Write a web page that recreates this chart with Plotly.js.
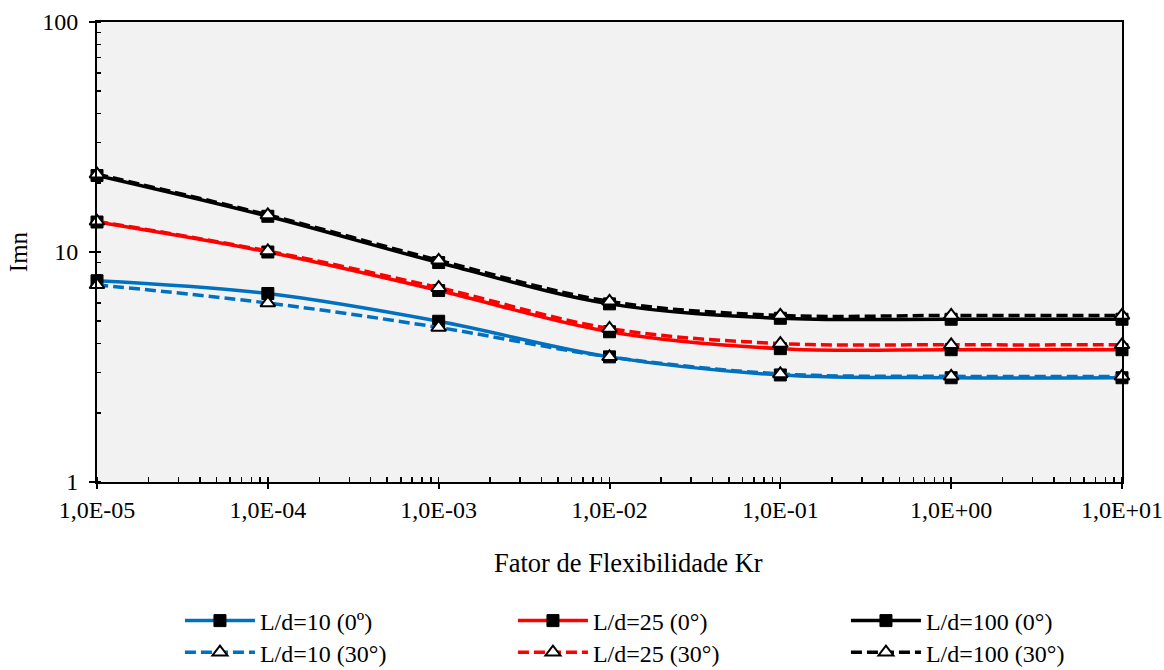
<!DOCTYPE html>
<html>
<head>
<meta charset="utf-8">
<script src="https://cdn.plot.ly/plotly-3.0.1.min.js"></script>
<style>html,body{margin:0;padding:0;background:#fff;}#chart{width:1164px;height:670px;}</style>
</head>
<body>
<div id="chart"></div>
<script>
// Data
const kr = [1e-5, 1e-4, 1e-3, 1e-2, 1e-1, 1e0, 1e1];
const ld10_0  = [7.5, 6.6, 5.0, 3.5, 2.92, 2.84, 2.84];
const ld10_30 = [7.2, 6.0, 4.7, 3.5, 2.95, 2.88, 2.88];
const ld25_0  = [13.5, 10.0, 6.8, 4.5, 3.8, 3.76, 3.76];
const ld25_30 = [13.6, 10.1, 7.0, 4.65, 4.0, 3.95, 3.95];
const ld100_0  = [21.5, 14.3, 9.0, 5.95, 5.15, 5.1, 5.1];
const ld100_30 = [21.8, 14.5, 9.2, 6.1, 5.3, 5.3, 5.3];

const names = ['L/d=10 (0º)', 'L/d=25 (0°)', 'L/d=100 (0°)', 'L/d=10 (30°)', 'L/d=25 (30°)', 'L/d=100 (30°)'];
const xTickVals = [1e-5, 1e-4, 1e-3, 1e-2, 1e-1, 1e0, 1e1];
const xTickText = ['1,0E-05', '1,0E-04', '1,0E-03', '1,0E-02', '1,0E-01', '1,0E+00', '1,0E+01'];
const yTickVals = [1, 10, 100];
const yTickText = ['1', '10', '100'];
const xTitle = 'Fator de Flexibilidade Kr';
const yTitle = 'Imn';

const FONT = "'Liberation Serif', 'Times New Roman', Times, serif";
const colors = ['#0070C0', '#FF0000', '#000000'];

function solid(y, name, color) {
  return {x: kr, y: y, name: name, type: 'scatter', mode: 'lines+markers', cliponaxis: false,
    legend: 'legend',
    line: {color: color, width: 3.5, shape: 'spline', smoothing: 1},
    marker: {symbol: 'square', size: 12, color: '#000000', line: {color: '#000000', width: 1}}};
}
function dashed(y, name, color) {
  return {x: kr, y: y, name: name, type: 'scatter', mode: 'lines+markers', cliponaxis: false,
    legend: 'legend2',
    line: {color: color, width: 3.5, shape: 'spline', smoothing: 1, dash: '11px,5px'},
    marker: {symbol: 'triangle-up', size: 13, color: '#FFFFFF', line: {color: '#000000', width: 2}}};
}

const data = [
  solid(ld10_0, names[0], colors[0]),
  solid(ld25_0, names[1], colors[1]),
  solid(ld100_0, names[2], colors[2]),
  dashed(ld10_30, names[3], colors[0]),
  dashed(ld25_30, names[4], colors[1]),
  dashed(ld100_30, names[5], colors[2])
];

const legendCommon = {orientation: 'h', xref: 'container', yref: 'container', xanchor: 'left', yanchor: 'middle',
  entrywidth: 248, entrywidthmode: 'pixels', itemwidth: 70,
  font: {family: FONT, size: 24, color: '#000'}, bgcolor: 'rgba(0,0,0,0)', borderwidth: 0};

const layout = {
  width: 1164, height: 670,
  margin: {l: 97, r: 42, t: 22, b: 188, autoexpand: false},
  paper_bgcolor: '#FFFFFF', plot_bgcolor: '#F2F2F2',
  font: {family: FONT, size: 24, color: '#000'},
  showlegend: true,
  legend: Object.assign({}, legendCommon, {x: 0.1546, y: 0.0731}),
  legend2: Object.assign({}, legendCommon, {x: 0.1546, y: 0.026}),
  xaxis: {
    type: 'log', range: [-5, 1], showgrid: false, zeroline: false,
    showline: true, linecolor: '#000', linewidth: 2, mirror: true,
    ticks: 'outside', ticklen: 5, tickwidth: 2, tickcolor: '#000',
    tickvals: xTickVals, ticktext: xTickText, ticklabelstandoff: 0,
    tickfont: {family: FONT, size: 24, color: '#000'},
    minor: {dtick: 'D1', ticks: 'inside', ticklen: 5, tickwidth: 1.5, tickcolor: '#000', showgrid: false}
  },
  yaxis: {
    type: 'log', range: [0, 2], showgrid: false, zeroline: false,
    showline: true, linecolor: '#000', linewidth: 2, mirror: true,
    ticks: 'outside', ticklen: 6, tickwidth: 2, tickcolor: '#000',
    tickvals: yTickVals, ticktext: yTickText, ticklabelstandoff: 6,
    tickfont: {family: FONT, size: 24, color: '#000'},
    minor: {dtick: 'D1', ticks: 'inside', ticklen: 4, tickwidth: 1.5, tickcolor: '#000', showgrid: false},
    title: {text: yTitle, font: {family: FONT, size: 25, color: '#000'}, standoff: 7}
  },
  annotations: [{
    text: xTitle, xref: 'paper', yref: 'paper', x: 0.5, y: -0.176, xshift: 19,
    xanchor: 'center', yanchor: 'middle', showarrow: false,
    font: {family: FONT, size: 26.5, color: '#000'}
  }]
};

Plotly.newPlot('chart', data, layout, {displayModeBar: false, staticPlot: true});
</script>
</body>
</html>
